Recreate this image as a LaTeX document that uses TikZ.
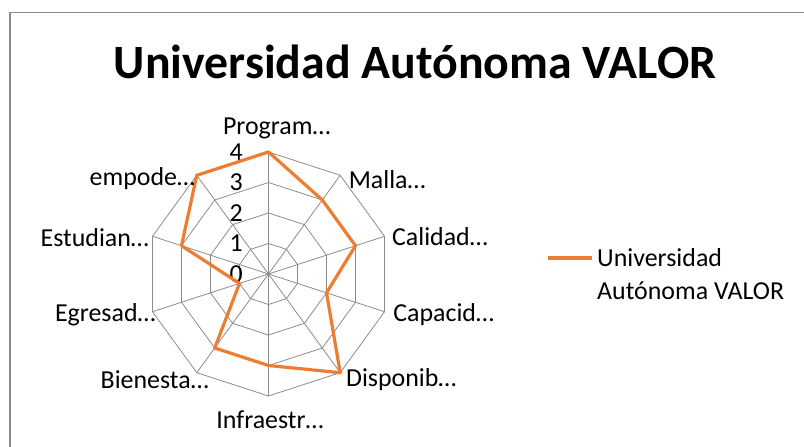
\documentclass[tikz,border=0pt]{standalone}
\usepackage{fontspec}
\setmainfont{Carlito}
\usetikzlibrary{positioning, calc}
\definecolor{serie}{HTML}{ED7D31}
\definecolor{rejilla}{HTML}{8C8C8C}
\definecolor{marco}{HTML}{8A8A8A}

\begin{document}
\begin{tikzpicture}[x=1bp, y=1bp,
    rejilla/.style={draw=rejilla, line width=0.8bp},
    serielinea/.style={draw=serie, line width=3.2bp, line join=round, line cap=round},
    eje/.style={font=\fontsize{26}{30}\selectfont, inner sep=1bp},
    escala/.style={font=\fontsize{26}{30}\selectfont, inner sep=0pt, anchor=east}]
    \useasboundingbox (0,0) rectangle (804,447);
    \draw[marco, line width=1.2bp] (10,0) -- (10,434.5) -- (804,434.5);

    \node[font=\fontsize{48}{52}\selectfont\bfseries, anchor=base] (titulo) at (415,368.7) {Universidad Autónoma VALOR};

    \begin{scope}[shift={(268.5,173)}]
        % rejilla del radar
        \foreach \r in {1,...,4}
            \draw[rejilla] (90:\r*30.5) \foreach \a in {1,...,9} { -- (90-\a*36:\r*30.5) } -- cycle;
        \foreach \a in {0,...,9}
            \draw[rejilla] (0,0) -- (90-\a*36:122);

        % escala
        \foreach \r in {0,...,4}
            \node[escala] (n\r) at (-25.5,\r*30.5) {\r};

        % serie
        \draw[serielinea] (90:4*30.5) -- (54:3*30.5) -- (18:3*30.5) -- (-18:2*30.5)
            -- (-54:4*30.5) -- (-90:3*30.5) -- (-126:3*30.5) -- (-162:1*30.5)
            -- (162:3*30.5) -- (126:4*30.5) -- cycle;

        % etiquetas de los ejes
        \node[eje] (programa) at (8.2,146) {Program…};
        \node[eje, anchor=west] (malla) at (50:123) {Malla…};
        \node[eje, anchor=west] (calidad) at (17:128) {Calidad…};
        \node[eje, anchor=west] (capacidad) at (-18:130) {Capacid…};
        \node[eje, anchor=west] (disponib) at (-54:130) {Disponib…};
        \node[eje] (infraestr) at (1.5,-146) {Infraestr…};
        \node[eje, anchor=east] (bienestar) at (-119:121) {Bienesta…};
        \node[eje, anchor=east] (egresados) at (-160:119) {Egresad…};
        \node[eje, anchor=east] (estudiantes) at (162.7:124) {Estudian…};
        \node[eje, anchor=east] (empode) at (127.3:119.5) {empode…};
    \end{scope}

    % leyenda
    \coordinate (ley1) at (548,189);
    \coordinate (ley2) at (592,189);
    \draw[serielinea, line cap=butt] (ley1) -- (ley2);
    \node[eje, anchor=west, align=left, font=\fontsize{26}{33}\selectfont] (leyenda) at (596,172.5) {Universidad\\Autónoma VALOR};
\end{tikzpicture}
\end{document}
